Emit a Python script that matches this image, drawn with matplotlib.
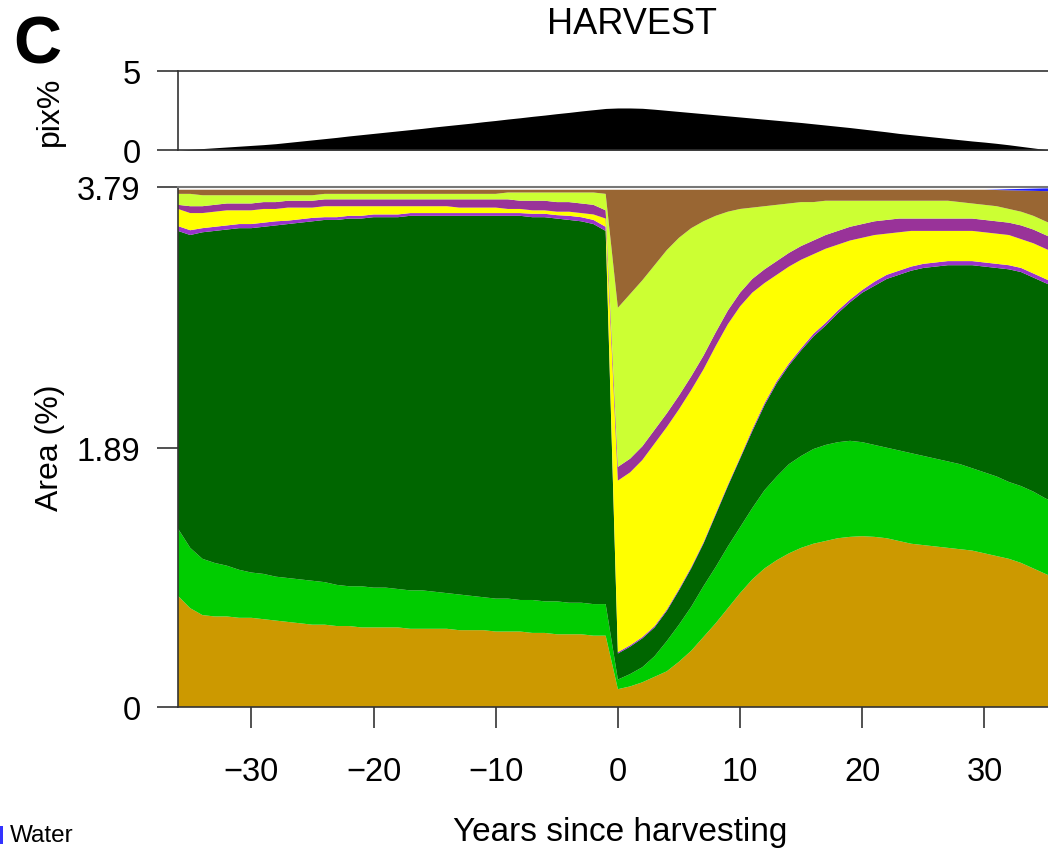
import numpy as np
import matplotlib
matplotlib.use("Agg")
import matplotlib.pyplot as plt
from matplotlib.patches import Rectangle

plt.rcParams["font.family"] = ["Liberation Sans", "DejaVu Sans"]

# ---- data -------------------------------------------------------------
years = list(range(-36, 37))

# share of harvested pixels per year (pix%)
pix_pct = [0.00, 0.04, 0.09, 0.14, 0.19, 0.24, 0.29, 0.34, 0.40, 0.48, 0.56, 0.64,
           0.72, 0.80, 0.89, 0.97, 1.05, 1.13, 1.21, 1.29, 1.37, 1.46, 1.54, 1.62,
           1.70, 1.79, 1.87, 1.96, 2.04, 2.13, 2.21, 2.30, 2.38, 2.47, 2.55, 2.63,
           2.66, 2.66, 2.64, 2.58, 2.51, 2.44, 2.37, 2.30, 2.23, 2.16, 2.09, 2.02,
           1.95, 1.88, 1.81, 1.74, 1.66, 1.58, 1.50, 1.42, 1.33, 1.24, 1.15, 1.05,
           0.97, 0.89, 0.81, 0.73, 0.65, 0.57, 0.50, 0.42, 0.33, 0.23, 0.13, 0.03, 0.00]

# cumulative upper edge of each cover class (Area %), bottom to top
top_ochre = [0.81, 0.72, 0.67, 0.66, 0.66, 0.65, 0.65, 0.64, 0.63, 0.62, 0.61, 0.60,
             0.60, 0.59, 0.59, 0.58, 0.58, 0.58, 0.58, 0.57, 0.57, 0.57, 0.57, 0.56,
             0.56, 0.56, 0.55, 0.55, 0.55, 0.54, 0.54, 0.53, 0.53, 0.53, 0.52, 0.52,
             0.13, 0.15, 0.18, 0.22, 0.26, 0.33, 0.41, 0.51, 0.61, 0.72, 0.83, 0.93,
             1.01, 1.07, 1.12, 1.16, 1.19, 1.21, 1.23, 1.24, 1.245, 1.24, 1.23, 1.21,
             1.19, 1.18, 1.17, 1.16, 1.15, 1.14, 1.12, 1.10, 1.08, 1.05, 1.01, 0.97, 0.93]

top_green = [1.30, 1.16, 1.08, 1.05, 1.03, 1.00, 0.98, 0.97, 0.95, 0.94, 0.93, 0.92,
             0.91, 0.89, 0.88, 0.88, 0.87, 0.87, 0.86, 0.85, 0.85, 0.84, 0.83, 0.82,
             0.81, 0.80, 0.79, 0.79, 0.78, 0.78, 0.77, 0.77, 0.76, 0.76, 0.75, 0.75,
             0.20, 0.24, 0.29, 0.37, 0.48, 0.60, 0.73, 0.88, 1.02, 1.17, 1.31, 1.45,
             1.58, 1.68, 1.77, 1.83, 1.88, 1.91, 1.93, 1.94, 1.93, 1.91, 1.89, 1.87,
             1.85, 1.83, 1.81, 1.79, 1.77, 1.74, 1.71, 1.68, 1.64, 1.61, 1.57, 1.52, 1.48]

top_darkgreen = [3.47, 3.44, 3.46, 3.47, 3.48, 3.49, 3.49, 3.50, 3.51, 3.52, 3.53, 3.54,
                 3.55, 3.55, 3.56, 3.56, 3.57, 3.57, 3.57, 3.58, 3.58, 3.58, 3.58, 3.58,
                 3.58, 3.58, 3.58, 3.58, 3.58, 3.57, 3.57, 3.56, 3.55, 3.54, 3.52, 3.47,
                 0.39, 0.44, 0.50, 0.58, 0.70, 0.85, 1.01, 1.19, 1.40, 1.61, 1.81, 2.01,
                 2.20, 2.36, 2.49, 2.60, 2.70, 2.78, 2.87, 2.95, 3.02, 3.07, 3.12, 3.15,
                 3.18, 3.20, 3.21, 3.22, 3.22, 3.22, 3.21, 3.20, 3.19, 3.17, 3.13, 3.09, 3.05]

top_violet = [3.505, 3.475, 3.49, 3.50, 3.51, 3.52, 3.52, 3.53, 3.54, 3.545, 3.555, 3.565,
              3.57, 3.57, 3.58, 3.58, 3.59, 3.59, 3.59, 3.60, 3.60, 3.60, 3.60, 3.60,
              3.60, 3.60, 3.60, 3.60, 3.60, 3.595, 3.595, 3.585, 3.58, 3.57, 3.55, 3.50,
              0.40, 0.45, 0.51, 0.59, 0.71, 0.86, 1.02, 1.20, 1.41, 1.62, 1.82, 2.025,
              2.215, 2.375, 2.505, 2.615, 2.72, 2.80, 2.89, 2.97, 3.04, 3.10, 3.15, 3.18,
              3.21, 3.23, 3.24, 3.25, 3.25, 3.25, 3.24, 3.23, 3.22, 3.20, 3.16, 3.12, 3.08]

top_yellow = [3.63, 3.60, 3.60, 3.61, 3.62, 3.62, 3.62, 3.63, 3.63, 3.64, 3.64, 3.64,
              3.65, 3.65, 3.65, 3.65, 3.65, 3.65, 3.65, 3.65, 3.65, 3.65, 3.65, 3.64,
              3.64, 3.64, 3.64, 3.63, 3.63, 3.62, 3.62, 3.61, 3.61, 3.60, 3.59, 3.56,
              1.65, 1.71, 1.80, 1.92, 2.04, 2.17, 2.31, 2.46, 2.63, 2.79, 2.92, 3.02,
              3.09, 3.15, 3.21, 3.26, 3.30, 3.34, 3.37, 3.40, 3.42, 3.44, 3.45, 3.46,
              3.47, 3.47, 3.47, 3.47, 3.47, 3.47, 3.46, 3.45, 3.44, 3.41, 3.38, 3.34, 3.30]

top_purple = [3.66, 3.65, 3.65, 3.66, 3.67, 3.67, 3.67, 3.68, 3.68, 3.69, 3.69, 3.69,
              3.70, 3.70, 3.70, 3.70, 3.70, 3.70, 3.70, 3.70, 3.70, 3.70, 3.70, 3.70,
              3.70, 3.70, 3.70, 3.70, 3.69, 3.69, 3.69, 3.68, 3.68, 3.67, 3.66, 3.62,
              1.75, 1.81, 1.90, 2.02, 2.14, 2.27, 2.41, 2.56, 2.73, 2.89, 3.02, 3.12,
              3.19, 3.25, 3.31, 3.36, 3.40, 3.44, 3.47, 3.50, 3.52, 3.54, 3.55, 3.56,
              3.56, 3.56, 3.56, 3.56, 3.56, 3.56, 3.55, 3.54, 3.53, 3.51, 3.48, 3.44, 3.40]

top_lime = [3.74, 3.74, 3.73, 3.73, 3.73, 3.73, 3.73, 3.73, 3.73, 3.73, 3.73, 3.73,
            3.74, 3.74, 3.74, 3.74, 3.74, 3.74, 3.74, 3.74, 3.74, 3.74, 3.74, 3.74,
            3.74, 3.74, 3.74, 3.75, 3.75, 3.75, 3.75, 3.75, 3.75, 3.75, 3.75, 3.74,
            2.91, 3.01, 3.11, 3.22, 3.33, 3.42, 3.49, 3.54, 3.58, 3.61, 3.63, 3.64,
            3.65, 3.66, 3.67, 3.68, 3.68, 3.69, 3.69, 3.69, 3.69, 3.69, 3.69, 3.69,
            3.69, 3.69, 3.69, 3.69, 3.68, 3.67, 3.66, 3.65, 3.63, 3.61, 3.58, 3.54, 3.50]

top_brown = [3.77] * 67 + [3.768, 3.766, 3.764, 3.762, 3.76, 3.76]
top_water = [3.77] * 67 + [3.771, 3.774, 3.776, 3.778, 3.78, 3.78]

class_colors = ["#CC9900", "#00CC00", "#006600", "#9933CC", "#FFFF00",
                "#993399", "#CCFF33", "#996633", "#1E1EFF"]

y_ticks = [0, 1.89, 3.79]
y_ticklabels = ["0", "1.89", "3.79"]
x_ticks = [-30, -20, -10, 0, 10, 20, 30]

# ---- figure -----------------------------------------------------------
W, H = 1048, 853
fig = plt.figure(figsize=(W / 100, H / 100), dpi=100)

x0 = 178 / W
ax_top = fig.add_axes([x0, (H - 151) / H, 1 - x0, 79 / H])
ax = fig.add_axes([x0, (H - 708) / H, 1 - x0, 520 / H])

xlim = (-36, 35.2)
spine_col = "#333333"
tick_fs = 23.5

# top panel: harvested pixels
ax_top.fill_between(years, 0, pix_pct, color="black", lw=0)
ax_top.set_xlim(*xlim)
ax_top.set_ylim(0, 5)
ax_top.set_yticks([0, 5])
ax_top.set_yticklabels(["0", "5"])
ax_top.set_xticks([])
ax_top.spines["right"].set_visible(False)
for s in ("top", "left", "bottom"):
    ax_top.spines[s].set_color(spine_col)
    ax_top.spines[s].set_linewidth(1.2)
ax_top.tick_params(axis="y", direction="out", length=15, width=1.2,
                   color=spine_col, labelsize=tick_fs, pad=12)

# bottom panel: stacked cover classes
tops = np.vstack([top_ochre, top_green, top_darkgreen, top_violet, top_yellow,
                  top_purple, top_lime, top_brown, top_water])
areas = np.diff(np.vstack([np.zeros(len(years)), tops]), axis=0)
ax.stackplot(years, areas, colors=class_colors, linewidth=0, antialiased=True)

ax.set_xlim(*xlim)
ax.set_ylim(0, 3.79)
ax.set_yticks(y_ticks)
ax.set_yticklabels(y_ticklabels)
ax.set_xticks(x_ticks)
ax.spines["right"].set_visible(False)
for s in ("left", "bottom"):
    ax.spines[s].set_color(spine_col)
    ax.spines[s].set_linewidth(1.2)
ax.spines["top"].set_color("#777777")
ax.spines["top"].set_linewidth(1.5)
ax.tick_params(axis="both", direction="out", length=15, width=1.2,
               color=spine_col, labelsize=tick_fs)
ax.tick_params(axis="y", pad=12)
ax.tick_params(axis="x", pad=20)

# labels
fig.text(50 / W, 1 - 111 / H, "pix%", rotation=90, ha="center", va="center", fontsize=23)
fig.text(50 / W, 1 - 448 / H, "Area (%)", rotation=90, ha="center", va="center", fontsize=23)
fig.text(620 / W, 1 - 833 / H, "Years since harvesting", ha="center", va="center", fontsize=24)
fig.text(632 / W, 1 - 24 / H, "HARVEST", ha="center", va="center", fontsize=26)
fig.text(13 / W, 1 - 46 / H, "C", ha="left", va="center", fontsize=48, fontweight="bold")

# legend entry
fig.patches.append(Rectangle((0, 1 - 845 / H), 3 / W, 18 / H, transform=fig.transFigure,
                             facecolor="#3333FF", edgecolor="none"))
fig.text(10 / W, 1 - 836 / H, "Water", ha="left", va="center", fontsize=17.5)

fig.savefig("out.png", dpi=100)
